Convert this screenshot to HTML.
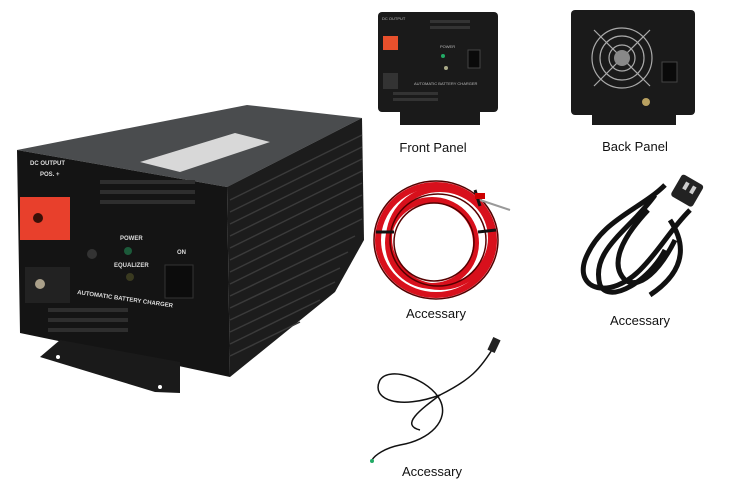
<!DOCTYPE html>
<html><head><meta charset="utf-8"><style>
html,body{margin:0;padding:0;background:#fff;}
svg{display:block;}
text{font-family:"Liberation Sans",sans-serif;}
</style></head><body>
<svg width="748" height="491" viewBox="0 0 748 491" xmlns="http://www.w3.org/2000/svg">
<rect width="748" height="491" fill="#fff"/>
<!-- Main unit -->
<polygon points="17,150 247,105 362,118 227,187" fill="#4a4c4e"/>
<polygon points="140,162 235,133 270,142 180,172" fill="#d8d8d8"/>
<polygon points="227,187 362,118 360,128 232,195" fill="#777"/>
<polygon points="227,187 362,118 364,240 335,292 230,377" fill="#1c1c1c"/>
<g stroke="#3a3a3a" stroke-width="1.5">
<line x1="230" y1="200" x2="362" y2="135"/><line x1="230" y1="212" x2="362" y2="147"/>
<line x1="230" y1="224" x2="362" y2="159"/><line x1="230" y1="236" x2="362" y2="171"/>
<line x1="230" y1="248" x2="362" y2="183"/><line x1="230" y1="260" x2="362" y2="195"/>
<line x1="230" y1="272" x2="362" y2="207"/><line x1="230" y1="284" x2="362" y2="219"/>
<line x1="230" y1="296" x2="355" y2="236"/><line x1="230" y1="308" x2="348" y2="252"/>
<line x1="230" y1="320" x2="340" y2="268"/><line x1="230" y1="332" x2="335" y2="282"/>
<line x1="230" y1="344" x2="320" y2="300"/><line x1="230" y1="356" x2="300" y2="322"/>
</g>
<polygon points="17,150 227,187 230,377 160,362 20,333" fill="#141414"/>
<polygon points="40,357 60,340 180,362 180,393 155,392" fill="#1a1a1a"/>
<circle cx="58" cy="357" r="2" fill="#fff"/><circle cx="160" cy="387" r="2" fill="#fff"/>
<g fill="#2e2e2e"><rect x="100" y="180" width="95" height="4"/><rect x="100" y="190" width="95" height="4"/><rect x="100" y="200" width="95" height="4"/><rect x="48" y="308" width="80" height="4"/><rect x="48" y="318" width="80" height="4"/><rect x="48" y="328" width="80" height="4"/></g>
<rect x="20" y="197" width="50" height="43" fill="#e8402c"/>
<circle cx="38" cy="218" r="5" fill="#3a1008"/>
<rect x="25" y="267" width="45" height="36" fill="#222"/>
<circle cx="40" cy="284" r="5" fill="#aaa08a"/>
<circle cx="92" cy="254" r="5" fill="#333"/>
<circle cx="128" cy="251" r="4" fill="#1c5a3a"/>
<circle cx="130" cy="277" r="4" fill="#3a3a20"/>
<rect x="165" y="265" width="28" height="33" fill="#0c0c0c" stroke="#333"/>
<g fill="#ddd" font-family="Liberation Serif,serif" font-size="6" font-weight="bold">
<text x="30" y="165">DC OUTPUT</text><text x="40" y="176">POS. +</text>
<text x="120" y="240">POWER</text><text x="114" y="267">EQUALIZER</text>
<text x="177" y="254">ON</text>
<text x="77" y="294" transform="rotate(8 77 294)">AUTOMATIC BATTERY CHARGER</text>
</g>
<!-- Front panel -->
<rect x="378" y="12" width="120" height="100" rx="4" fill="#1a1a1a"/>
<rect x="400" y="110" width="80" height="15" fill="#1a1a1a"/>
<rect x="383" y="36" width="15" height="14" fill="#e8502c"/>
<rect x="383" y="73" width="15" height="16" fill="#333"/>
<rect x="468" y="50" width="12" height="18" fill="#0a0a0a" stroke="#444"/>
<g fill="#333"><rect x="430" y="20" width="40" height="3"/><rect x="430" y="26" width="40" height="3"/><rect x="393" y="92" width="45" height="3"/><rect x="393" y="98" width="45" height="3"/></g>
<circle cx="443" cy="56" r="2" fill="#2a6"/><circle cx="446" cy="68" r="2" fill="#aa8"/>
<g fill="#bbb" font-size="4" font-family="Liberation Serif,serif"><text x="382" y="20">DC OUTPUT</text><text x="440" y="48">POWER</text><text x="414" y="85">AUTOMATIC BATTERY CHARGER</text></g>
<!-- Back panel -->
<rect x="571" y="10" width="124" height="105" rx="4" fill="#1a1a1a"/>
<rect x="592" y="110" width="84" height="15" fill="#1a1a1a"/>
<g fill="none" stroke="#aaa" stroke-width="1.2"><circle cx="622" cy="58" r="30"/><circle cx="622" cy="58" r="22"/><circle cx="622" cy="58" r="13"/><line x1="594" y1="30" x2="650" y2="86"/><line x1="650" y1="30" x2="594" y2="86"/></g>
<circle cx="622" cy="58" r="8" fill="#888"/>
<rect x="662" y="62" width="15" height="20" fill="#0a0a0a" stroke="#444"/>
<circle cx="646" cy="102" r="4" fill="#b8a060"/>
<text x="433" y="152" font-size="13" text-anchor="middle" fill="#111">Front Panel</text>
<text x="635" y="151" font-size="13" text-anchor="middle" fill="#111">Back Panel</text>
<!-- Red cable -->
<g fill="none" stroke="#d8101c" stroke-width="6">
<ellipse cx="436" cy="240" rx="58" ry="55"/><ellipse cx="440" cy="238" rx="51" ry="49"/><ellipse cx="432" cy="243" rx="44" ry="43"/>
</g>
<g fill="none" stroke="#500" stroke-width="1.5"><ellipse cx="436" cy="240" rx="62" ry="59"/><ellipse cx="434" cy="242" rx="40" ry="39"/><ellipse cx="438" cy="240" rx="48" ry="46"/></g>
<g stroke="#111" stroke-width="3"><line x1="376" y1="232" x2="394" y2="232"/><line x1="478" y1="232" x2="496" y2="230"/><line x1="475" y1="190" x2="480" y2="206"/></g>
<line x1="480" y1="200" x2="510" y2="210" stroke="#999" stroke-width="2"/>
<rect x="475" y="193" width="10" height="6" fill="#c00"/>
<text x="436" y="318" font-size="13" text-anchor="middle" fill="#111">Accessary</text>
<!-- Black cord -->
<g fill="none" stroke="#111" stroke-width="5">
<path d="M665,185 C640,210 600,220 585,260 C575,290 610,300 640,270 C660,250 670,230 690,210"/>
<path d="M655,195 C630,230 590,250 600,285 C610,305 650,280 665,250"/>
<path d="M670,220 C690,250 680,275 650,295"/>
<path d="M648,210 C620,240 610,265 625,280 C640,290 660,270 675,240"/>
</g>
<rect x="675" y="178" width="25" height="25" rx="3" fill="#222" transform="rotate(30 687 190)"/>
<rect x="682" y="183" width="4" height="8" fill="#ccc" transform="rotate(30 687 190)"/>
<rect x="690" y="183" width="4" height="8" fill="#ccc" transform="rotate(30 687 190)"/>
<text x="640" y="325" font-size="13" text-anchor="middle" fill="#111">Accessary</text>
<!-- Sensor cable -->
<g fill="none" stroke="#111" stroke-width="1.5">
<path d="M495,345 C480,370 470,380 440,395 C400,410 370,400 380,380 C390,365 430,380 440,400 C450,420 430,440 400,445 C385,448 375,455 372,460"/>
<path d="M440,395 C420,410 400,425 420,430"/>
</g>
<rect x="490" y="338" width="8" height="14" fill="#222" transform="rotate(25 494 345)"/>
<circle cx="372" cy="461" r="2" fill="#2a6"/>
<text x="432" y="476" font-size="13" text-anchor="middle" fill="#111">Accessary</text>
</svg>
</body></html>
